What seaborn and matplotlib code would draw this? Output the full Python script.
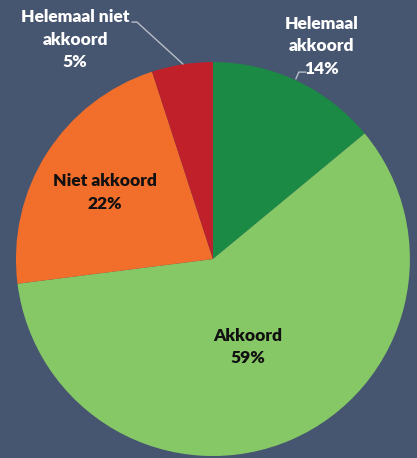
import matplotlib
matplotlib.use("Agg")
import matplotlib.pyplot as plt
import seaborn as sns

# antwoorden op de stelling
labels = ["Helemaal\nakkoord", "Akkoord", "Niet akkoord", "Helemaal niet\nakkoord"]
percent = [14, 59, 22, 5]
kleuren = ["#1b8a45", "#86c766", "#f26e2b", "#c0202a"]

sns.set_theme(style="white")
plt.rcParams["font.family"] = ["Lato", "DejaVu Sans"]

bg = "#465570"
fig = plt.figure(figsize=(4.17, 4.58), dpi=100, facecolor=bg)
ax = fig.add_axes([0, 0, 1, 1])
ax.set_facecolor(bg)

wedges, _ = ax.pie(percent, colors=kleuren, startangle=90, counterclock=False,
                   radius=1, wedgeprops=dict(linewidth=0))

ax.set_xlim(-1.081, 1.036)
ax.set_ylim(-1.010, 1.315)
ax.set_aspect("auto")
ax.axis("off")

tekst = [f"{l}\n{p}%" for l, p in zip(labels, percent)]
pos = [(0.553, 1.081), (0.178, -0.447), (-0.548, 0.338), (-0.70, 1.112)]
kleur_txt = ["white", "#111111", "#111111", "white"]
for t, (x, y), c in zip(tekst, pos, kleur_txt):
    ax.text(x, y, t, ha="center", va="center", color=c, fontsize=12.5,
            fontweight="heavy", linespacing=1.5)

# verbindingslijnen
ax.plot([0.421, 0.436, 0.472], [0.914, 0.949, 0.949], color="#b8bec8", lw=1)
ax.plot([-0.152, -0.386, -0.411], [0.99, 1.203, 1.203], color="#b8bec8", lw=1)

fig.savefig("out.png", dpi=100, facecolor=bg)
